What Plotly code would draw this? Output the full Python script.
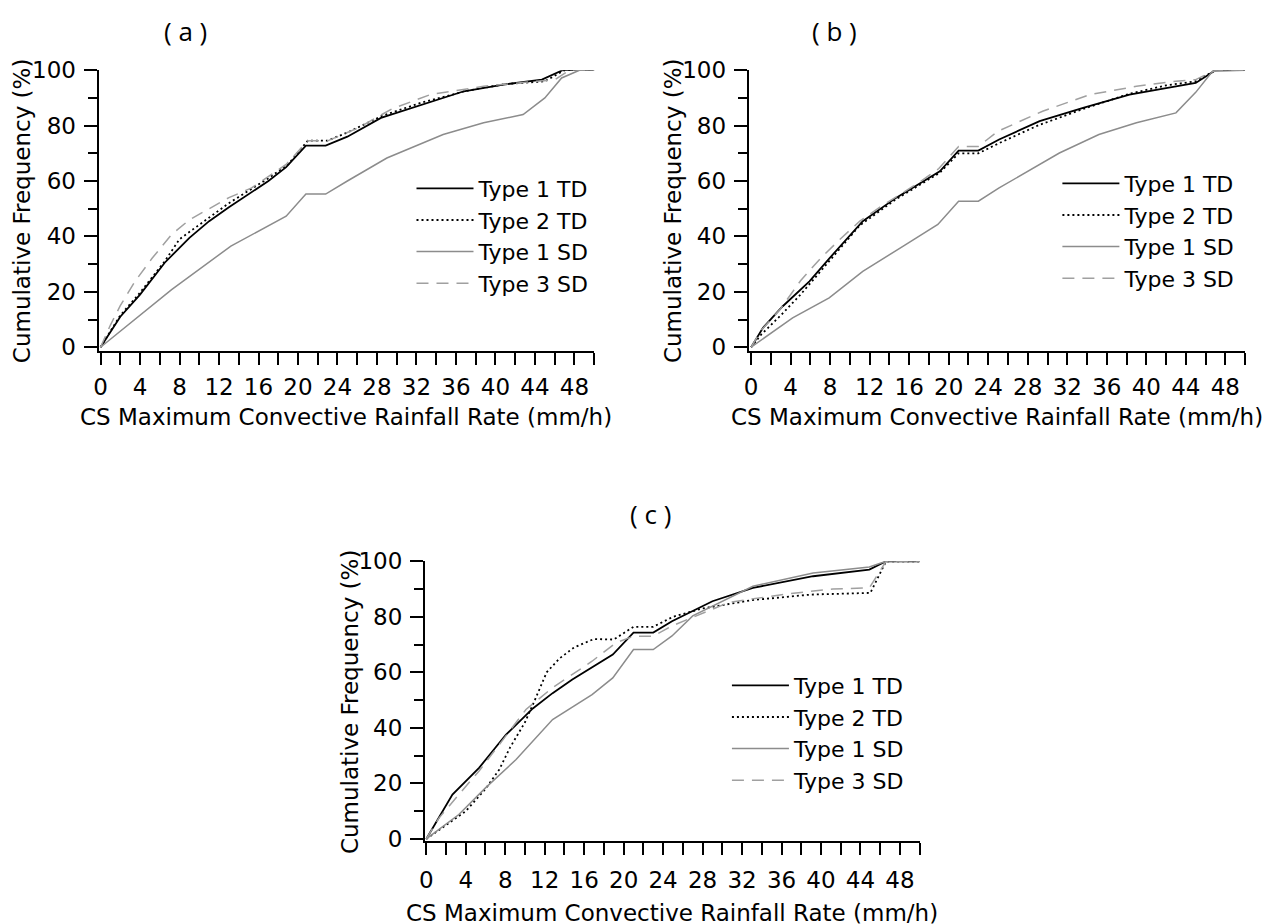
import plotly.graph_objects as go

W, H = 1271, 940

# mapping from target picture pixels to figure pixels (measured from earlier renders)
SX, OXI = 0.9939, 7.6
SY, OYI = 0.9744, 11.8


def lx(x_img):
    return (x_img - OXI) / SX


def ly(y_img):
    return (y_img - OYI) / SY


def px(x_img):
    return lx(x_img) / W


def py(y_img):
    return 1 - ly(y_img) / H


# ---------------- data ----------------
a_t1td_x = [0, 2, 4, 6.5, 9, 11, 13, 15.3, 17, 18.8, 20.8, 22.8, 25, 28.4, 32.7, 36.8, 40.8, 44.7, 46.8, 50]
a_t1td_y = [0, 11, 19, 30.5, 39.5, 45.5, 50.5, 56, 60, 65, 72.8, 72.8, 76, 82.8, 87.6, 92.4, 94.8, 96.6, 100, 100]
a_t2td_x = [0, 1, 2, 3.8, 6.5, 8, 11, 13, 15, 17, 19, 21, 23, 25, 28.5, 32.5, 37, 41, 45, 47, 50]
a_t2td_y = [0, 6, 11.5, 18.8, 31, 39, 47, 52, 56.5, 61, 66, 74.6, 74.6, 77.5, 83.5, 88.3, 92.5, 95, 96, 100, 100]
a_t1sd_x = [0, 7.2, 13.2, 18.8, 20.8, 22.8, 25, 29, 34.7, 38.8, 42.8, 45, 46.7, 48.5, 50]
a_t1sd_y = [0, 20.8, 36.5, 47.3, 55.3, 55.3, 60, 68.3, 76.8, 81, 84, 90, 97.2, 100, 100]
a_t3sd_x = [0, 1, 2, 3.5, 5.2, 7.2, 9, 11.2, 13, 15.3, 17, 18.8, 21, 23, 26, 29.5, 33.4, 38.8, 43.5, 46, 47.5, 50]
a_t3sd_y = [0, 8, 15, 23.8, 32, 40.7, 46, 50.3, 54, 57.5, 61.5, 66, 74.5, 74.5, 79, 86, 91.2, 94.2, 95.8, 96.5, 100, 100]

b_t1td_x = [0, 1.2, 3.2, 5.9, 7.9, 11.3, 14.7, 17, 19.1, 21, 23, 25.1, 29.2, 33.6, 38.3, 42, 45, 47, 50]
b_t1td_y = [0, 7, 14.8, 23.8, 32, 45.5, 54, 59, 63.5, 71, 71, 75, 81.6, 86.4, 91.2, 93.5, 95.4, 100, 100]
b_t2td_x = [0, 1, 3, 5, 7, 9, 11, 14.7, 17, 19.1, 21, 23, 25, 29, 33.6, 38.3, 42, 45, 47, 50]
b_t2td_y = [0, 4.5, 11.5, 19, 27.3, 35.5, 44, 53.5, 58.5, 63, 70, 70, 73.5, 80, 86, 91.5, 94.5, 96, 100, 100]
b_t1sd_x = [0, 4.2, 7.9, 11.3, 15.4, 18.9, 21, 23, 25.1, 31.2, 35.2, 39, 43, 45, 46.7, 50]
b_t1sd_y = [0, 10.6, 17.8, 27.4, 36.5, 44.3, 52.7, 52.7, 57.5, 70.1, 76.8, 81, 84.6, 92, 99.6, 100]
b_t3sd_x = [0, 1, 3, 5, 7, 9, 11, 13, 15, 17, 19, 21, 23, 25, 29.5, 34.3, 39, 43, 45, 47, 50]
b_t3sd_y = [0, 6, 14, 24, 32, 39, 45.5, 50.5, 55, 59.5, 64.5, 72.5, 72.5, 78, 85.2, 91.2, 94.2, 96, 96.6, 100, 100]

c_t1td_x = [0, 2.65, 5.35, 8.06, 10.8, 12.8, 14.8, 18.9, 21, 23, 24.9, 29, 33.1, 39.2, 44.9, 46.6, 50]
c_t1td_y = [0, 16, 25.6, 37.5, 47, 52.5, 57.4, 66.4, 74.3, 74.3, 78.4, 85.6, 90.4, 94.6, 97, 100, 100]
c_t2td_x = [0, 2, 4, 6, 7.4, 8.5, 10, 11, 12.2, 13.5, 15, 17, 19, 21, 23, 25, 28, 33, 39, 45, 46.6, 50]
c_t2td_y = [0, 5, 10, 18, 25, 33, 42, 50, 60, 65, 69, 72, 71.8, 76.4, 76.4, 80, 83, 86, 88, 88.6, 100, 100]
c_t1sd_x = [0, 3.3, 6, 9.1, 12.8, 16.8, 18.9, 21, 23, 24.9, 27, 33.1, 39.2, 44.9, 46.6, 50]
c_t1sd_y = [0, 8.8, 18.4, 28.6, 43, 52, 58, 68.2, 68.2, 73.1, 80.3, 91, 95.8, 97.9, 100, 100]
c_t3sd_x = [0, 1.3, 3.3, 5.35, 7.4, 10.1, 12.8, 16.8, 19.2, 21, 23, 24.9, 27, 30.7, 36.5, 41.2, 44.9, 46.6, 50]
c_t3sd_y = [0, 7.6, 16, 24.5, 34, 46.6, 54.5, 64, 70.6, 73, 73, 76.7, 79.8, 85.2, 88.2, 90, 90.4, 100, 100]

series_names = ["Type 1 TD", "Type 2 TD", "Type 1 SD", "Type 3 SD"]
x_tick_vals = [0, 4, 8, 12, 16, 20, 24, 28, 32, 36, 40, 44, 48]
x_minor_vals = [2, 6, 10, 14, 18, 22, 26, 30, 34, 38, 42, 46, 50]
y_tick_vals = [0, 20, 40, 60, 80, 100]
y_minor_vals = [10, 30, 50, 70, 90]
panel_labels = ["( a )", "( b )", "( c )"]
x_title = "CS Maximum Convective Rainfall Rate (mm/h)"
y_title = "Cumulative Frequency (%)"

styles = [
    dict(color="#000000", width=1.8, dash="solid"),
    dict(color="#000000", width=1.8, dash="2px,3px"),
    dict(color="#8c8c8c", width=1.5, dash="solid"),
    dict(color="#a0a0a0", width=1.5, dash="12px,8px"),
]
FONT = "DejaVu Sans"

panels = [
    dict(xs=[a_t1td_x, a_t2td_x, a_t1sd_x, a_t3sd_x], ys=[a_t1td_y, a_t2td_y, a_t1sd_y, a_t3sd_y]),
    dict(xs=[b_t1td_x, b_t2td_x, b_t1sd_x, b_t3sd_x], ys=[b_t1td_y, b_t2td_y, b_t1sd_y, b_t3sd_y]),
    dict(xs=[c_t1td_x, c_t2td_x, c_t1sd_x, c_t3sd_x], ys=[c_t1td_y, c_t2td_y, c_t1sd_y, c_t3sd_y]),
]

# geometry in target-picture pixels
geo = [
    dict(xl=100, xr=595, x0=102, y100=69, y0=346, yl=350, leg=(418, 188), tick_so=2, ttl=416, ytx=23, lab=(187, 30)),
    dict(xl=749.3, xr=1245, x0=751.7, y100=69, y0=346, yl=350, leg=(1063, 183), tick_so=2, ttl=416, ytx=673, lab=(835, 30)),
    dict(xl=426, xr=920, x0=427.3, y100=560, y0=837.7, yl=840, leg=(733, 685), tick_so=5, ttl=911.5, ytx=351, lab=(651, 513)),
]

fig = go.Figure()
annotations = []
for i, (p, g) in enumerate(zip(panels, geo)):
    sfx = "" if i == 0 else str(i + 1)
    xa, ya = "x" + sfx, "y" + sfx
    leg = "legend" + sfx
    for name, xs, ys, st in zip(series_names, p["xs"], p["ys"], styles):
        fig.add_trace(go.Scatter(x=xs, y=ys, mode="lines", name=name, line=st,
                                 xaxis=xa, yaxis=ya, legend=leg, showlegend=True))
    ppx = (g["xr"] - g["x0"]) / 50.0
    xmin = -(g["x0"] - g["xl"]) / ppx
    ppy = (g["y0"] - g["y100"]) / 100.0
    ymin = -(g["yl"] - g["y0"]) / ppy
    xdom = [px(g["xl"]), px(g["xr"])]
    ydom = [py(g["yl"]), py(g["y100"])]
    axcommon = dict(showline=True, linecolor="black", linewidth=2, ticks="outside",
                    tickcolor="black", tickwidth=2, showgrid=False, zeroline=False,
                    tickfont=dict(family=FONT, size=23, color="black"), fixedrange=True)
    legx = lx(g["leg"][0]) - 5.5
    legy = ly(g["leg"][1]) - 22.2
    fig.update_layout(**{
        "xaxis" + sfx: dict(domain=xdom, range=[xmin, 50], anchor=ya, tickmode="array",
                            tickvals=x_tick_vals, ticklen=12, ticklabelstandoff=g["tick_so"],
                            minor=dict(tickmode="array", tickvals=x_minor_vals, ticklen=12,
                                       tickwidth=1.5, tickcolor="black", ticks="outside"),
                            **axcommon),
        "yaxis" + sfx: dict(domain=ydom, range=[ymin, 100], anchor=xa, tickmode="array",
                            tickvals=y_tick_vals, ticklen=13, ticklabelstandoff=3,
                            minor=dict(tickmode="array", tickvals=y_minor_vals, ticklen=9,
                                       tickwidth=1.5, tickcolor="black", ticks="outside"),
                            **axcommon),
        leg: dict(x=legx / W, y=1 - legy / H, xanchor="left", yanchor="top",
                  font=dict(family=FONT, size=22, color="black"), itemwidth=57,
                  bgcolor="rgba(0,0,0,0)", borderwidth=0, tracegroupgap=0,
                  traceorder="normal"),
    })
    annotations.append(dict(x=px((g["xl"] + g["xr"]) / 2), y=py(g["ttl"]), xref="paper", yref="paper",
                            text=x_title, showarrow=False, xanchor="center", yanchor="middle",
                            font=dict(family=FONT, size=23, color="black")))
    annotations.append(dict(x=px(g["ytx"]), y=py((g["y100"] + g["yl"]) / 2), xref="paper", yref="paper",
                            text=y_title, showarrow=False, textangle=-90, xanchor="center", yanchor="middle",
                            font=dict(family=FONT, size=23, color="black")))
    annotations.append(dict(x=px(g["lab"][0]), y=py(g["lab"][1]), xref="paper", yref="paper",
                            text=panel_labels[i], showarrow=False, xanchor="center", yanchor="middle",
                            font=dict(family="Open Sans", size=26, color="black")))

fig.update_layout(width=W, height=H, margin=dict(l=0, r=0, t=0, b=0),
                  paper_bgcolor="white", plot_bgcolor="white",
                  annotations=annotations, showlegend=True)

fig.write_html("out.html")
